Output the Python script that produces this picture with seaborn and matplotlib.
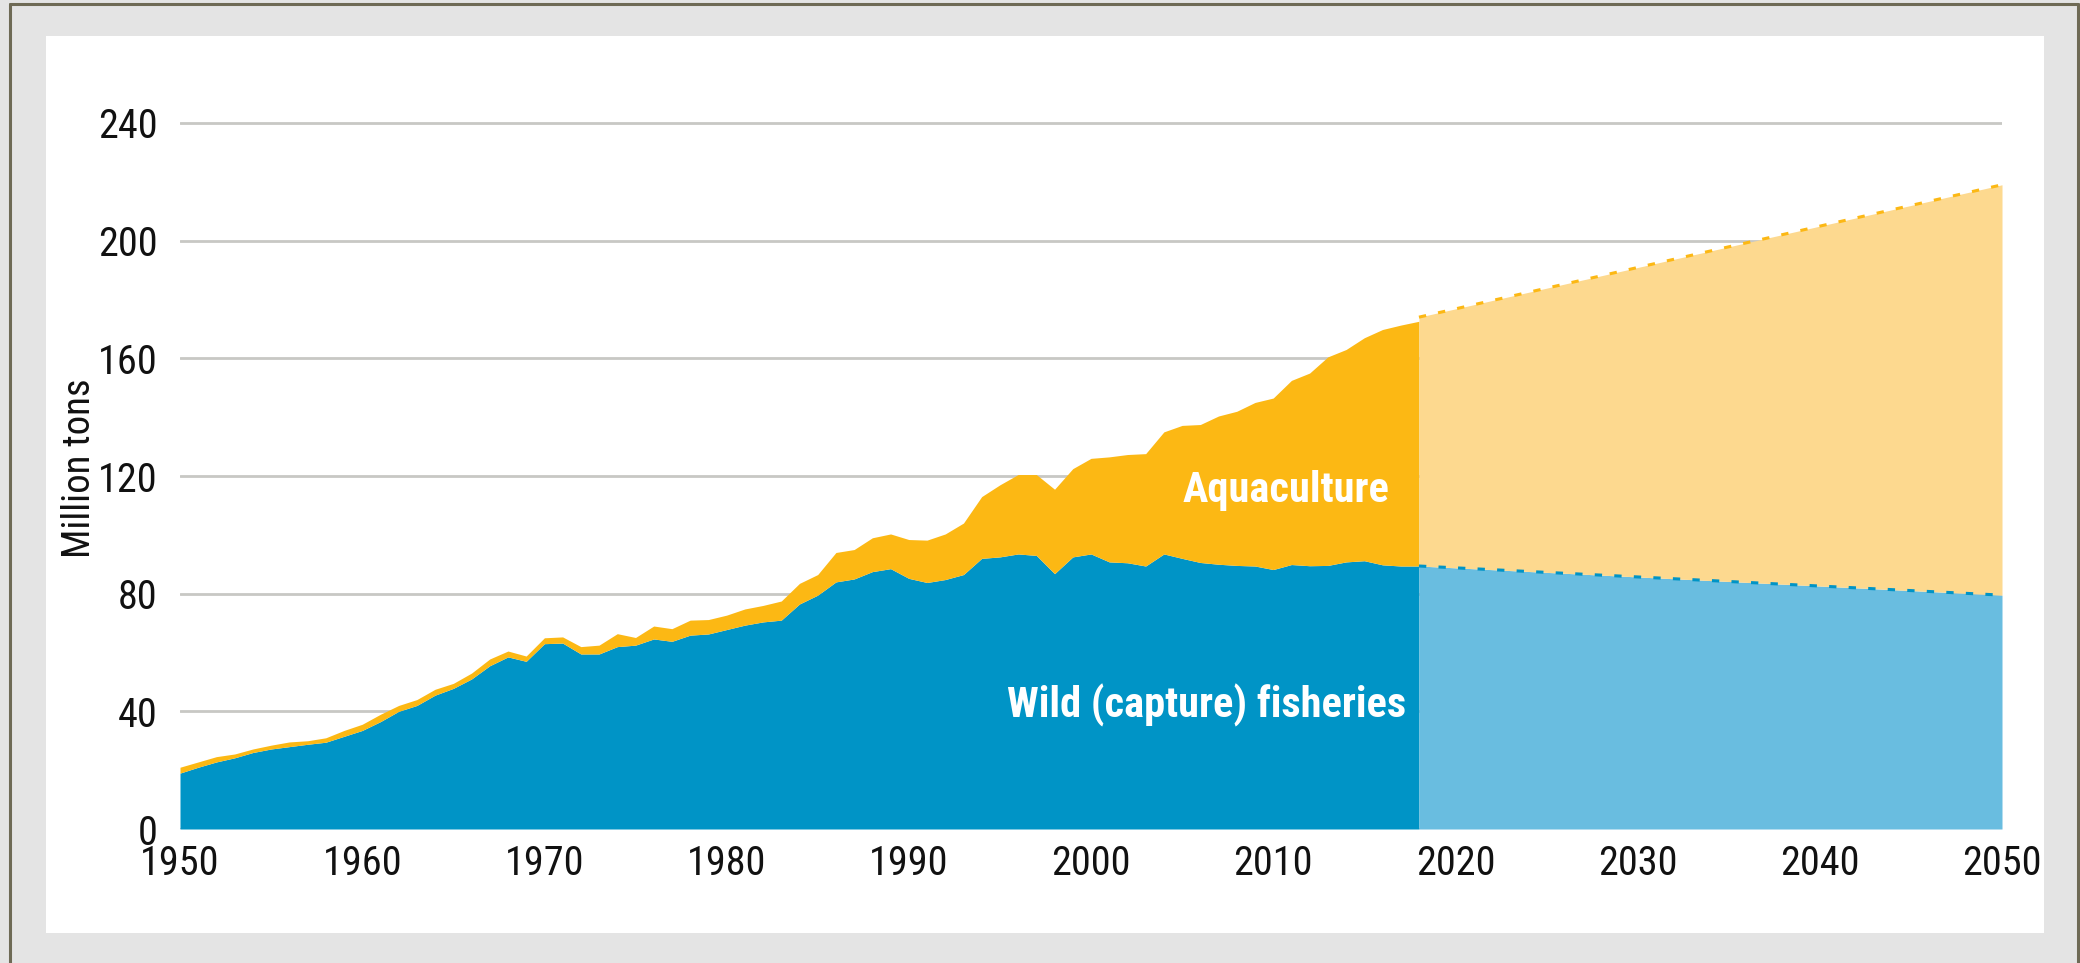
import matplotlib
matplotlib.use("Agg")
import matplotlib.pyplot as plt
from matplotlib.patches import Rectangle
from matplotlib.lines import Line2D
import seaborn as sns
import pandas as pd

# Historical supply, million tons
years = list(range(1950, 2019))
capture = [
    19.0, 21.0, 22.8, 24.2, 26.0, 27.2, 28.0, 28.8, 29.5, 31.5,
    33.5, 36.5, 40.0, 42.0, 45.5, 47.8, 51.0, 55.5, 58.5, 57.0,
    63.0, 63.2, 59.5, 59.5, 62.0, 62.5, 64.6, 63.8, 65.9, 66.3,
    67.8, 69.3, 70.4, 71.0, 76.5, 79.5, 84.0, 85.0, 87.5, 88.5,
    85.2, 83.8, 84.8, 86.5, 92.0, 92.5, 93.5, 93.0, 86.8, 92.5,
    93.5, 90.8, 90.5, 89.4, 93.5, 92.0, 90.6, 90.0, 89.6, 89.4,
    88.2, 89.9, 89.5, 89.6, 90.8, 91.2, 89.8, 89.4, 89.4,
]
aquaculture = [
    2.0, 1.8, 1.8, 1.3, 1.2, 1.3, 1.6, 1.2, 1.5, 2.0,
    2.1, 2.5, 2.0, 2.0, 2.0, 1.7, 2.0, 2.3, 2.0, 1.8,
    2.0, 2.1, 2.5, 3.0, 4.4, 2.6, 4.4, 4.3, 5.1, 4.9,
    4.9, 5.5, 5.6, 6.5, 7.0, 7.0, 10.0, 10.0, 11.5, 11.8,
    13.2, 14.4, 15.5, 17.5, 21.0, 24.5, 27.0, 27.5, 28.7, 30.0,
    32.5, 35.7, 36.8, 38.2, 41.5, 45.2, 46.9, 50.4, 52.4, 55.6,
    58.3, 62.6, 65.5, 70.9, 72.2, 75.8, 80.0, 81.9, 83.2,
]

# Projection to 2050
proj_years = [2018, 2050]
proj_capture = [89.4, 79.5]
proj_aquaculture = [84.6, 139.5]

y_ticks = [0, 40, 80, 120, 160, 200, 240]
x_ticks = [1950, 1960, 1970, 1980, 1990, 2000, 2010, 2020, 2030, 2040, 2050]

BLUE = "#0094c6"
YELLOW = "#fcb814"
LIGHT_BLUE = "#69bde0"
LIGHT_YELLOW = "#fdd98f"

sns.set_theme(style="white")
# narrow sans, falling back to whatever is installed
plt.rcParams["font.family"] = ["Roboto Condensed", "Archivo Narrow",
                               "Fira Sans Condensed", "Liberation Sans Narrow",
                               "DejaVu Sans"]

W, H = 2080, 963
fig = plt.figure(figsize=(W / 100, H / 100), dpi=100)
fig.patch.set_facecolor("#e4e4e4")

# white panel and dark frame
fig.add_artist(Rectangle((46 / W, 1 - 933 / H), (2044 - 46) / W, (933 - 36) / H,
                         transform=fig.transFigure, facecolor="white",
                         edgecolor="none", zorder=0))
frame_kw = dict(transform=fig.transFigure, color="#6e6a55", linewidth=2.2)
fig.add_artist(Line2D([10 / W, 10 / W], [0, 1 - 4 / H], **frame_kw))
fig.add_artist(Line2D([10 / W, 2078 / W], [1 - 4 / H, 1 - 4 / H], **frame_kw))
fig.add_artist(Line2D([2078 / W, 2078 / W], [0, 1 - 4 / H], **frame_kw))

ymax = 245
y_top_px = 829 - ymax * (706 / 240)
ax = fig.add_axes([180 / W, (H - 829) / H, (2002 - 180) / W, (829 - y_top_px) / H])
ax.set_facecolor("none")

hist = pd.DataFrame({"year": years, "capture": capture, "aquaculture": aquaculture})
hist["total"] = hist["capture"] + hist["aquaculture"]
proj = pd.DataFrame({"year": proj_years, "capture": proj_capture,
                     "aquaculture": proj_aquaculture})
proj["total"] = proj["capture"] + proj["aquaculture"]

ax.stackplot(hist["year"], hist["capture"], hist["aquaculture"],
             colors=[BLUE, YELLOW], linewidth=0, zorder=2)
ax.stackplot(proj["year"], proj["capture"], proj["aquaculture"],
             colors=[LIGHT_BLUE, LIGHT_YELLOW], linewidth=0, zorder=2)

# dashed edges on the projection
sns.lineplot(data=proj, x="year", y="total", ax=ax, color=YELLOW,
             linewidth=2.2, linestyle=(0, (2.4, 4)), zorder=3)
sns.lineplot(data=proj, x="year", y="capture", ax=ax, color=BLUE,
             linewidth=2.2, linestyle=(0, (2.4, 4)), zorder=3)

ax.set_xlim(1950, 2050)
ax.set_ylim(0, ymax)
ax.set_yticks(y_ticks)
ax.set_xticks(x_ticks)
ax.grid(axis="y", color="#c8c8c4", linewidth=2.0, zorder=0)
ax.grid(axis="x", visible=False)
ax.set_axisbelow(True)
for s in ax.spines.values():
    s.set_visible(False)

ax.tick_params(axis="y", length=0, pad=16, labelsize=29, labelcolor="#111111")
ax.tick_params(axis="x", length=0, pad=11, labelsize=29, labelcolor="#111111")
ax.set_xlabel("")
ax.set_ylabel("Million tons", fontsize=28, color="#111111", labelpad=0)

label_kw = dict(color="white", fontsize=30.5, fontweight="bold", ha="right",
                va="baseline", zorder=4)
ax.text(2016.4, 111, "Aquaculture", **label_kw)
ax.text(2017.3, 38, "Wild (capture) fisheries", **label_kw)

fig.savefig("out.png", dpi=100, facecolor=fig.get_facecolor())
